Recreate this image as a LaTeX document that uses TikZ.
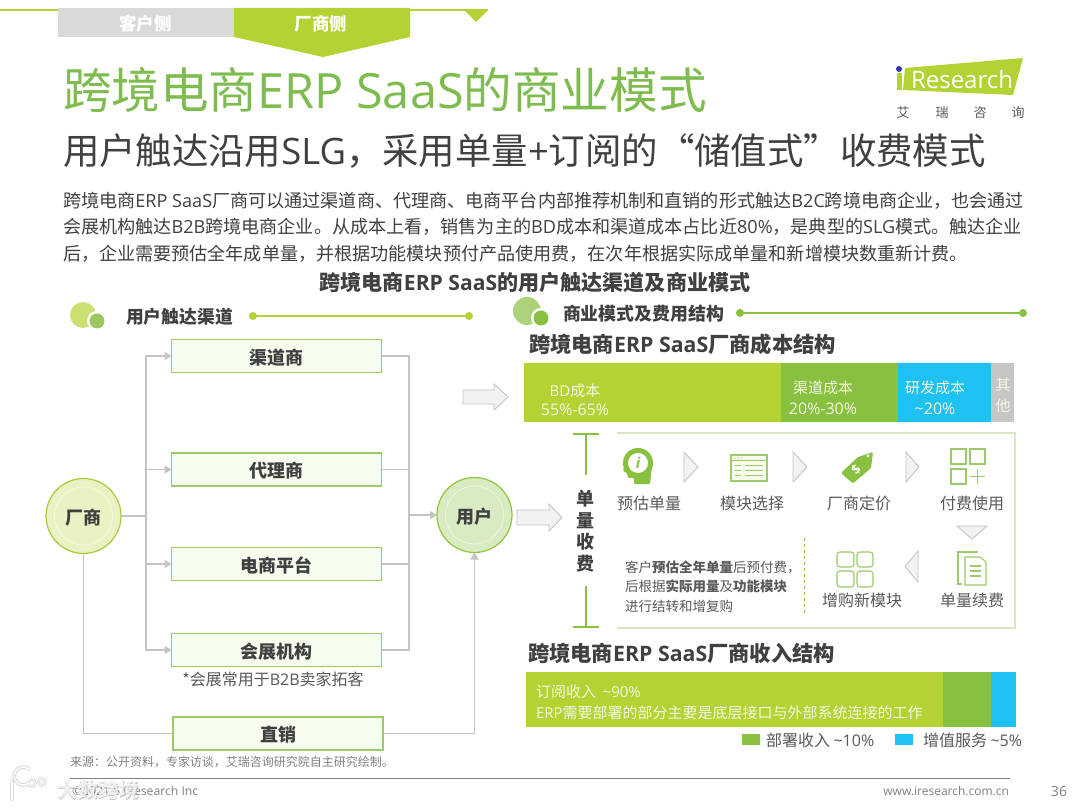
\documentclass[tikz,border=0pt]{standalone}
\usepackage{fontspec}
\usetikzlibrary{arrows.meta,calc}
\setmainfont{Noto Sans CJK SC}
\newfontfamily\latfont{Open Sans}
\newcommand\lat[1]{{\latfont #1}}
\newcommand\fs[1]{\fontsize{#1}{#1}\selectfont}
\newcommand\lo[1]{\raisebox{-1.5pt}[\height][\depth]{#1}}
\definecolor{lime}{HTML}{B3D334}
\definecolor{midg}{HTML}{88C040}
\definecolor{titleg}{HTML}{7FBC50}
\definecolor{skyb}{HTML}{1EC1F2}
\definecolor{dk}{HTML}{404040}
\definecolor{tx}{HTML}{595959}
\definecolor{conn}{HTML}{C4C4C4}
\definecolor{pale}{HTML}{D5E8C0}
\definecolor{iconline}{HTML}{9CC96B}
\tikzset{
  every node/.style={inner sep=0pt,outer sep=0pt},
  t/.style={text=tx,font=\fs{16}},
  barl/.style={text=white!85!lime,font=\fs{15}},
  barp/.style={text=white!85!lime,font=\fs{16}},
  chanbox/.style={draw=iconline,line width=1.2pt,fill=green!20!lime!8!white,minimum width=210pt,minimum height=33pt,text=dk,font=\fs{18}\bfseries},
  round1/.style={circle,draw=lime!70!midg,line width=1.2pt,fill=lime!30!white,minimum size=75pt,text=dk,font=\fs{18}\bfseries},
  round2/.style={circle,draw=midg!80!lime,line width=1.2pt,fill=midg!32!white,minimum size=75pt,text=dk,font=\fs{18}\bfseries},
  flow/.style={draw=conn,line width=1.1pt},
  flowa/.style={flow,-{Triangle[length=7pt,width=8pt,fill=conn]}},
  block/.style={draw=conn,line width=0.9pt,fill=gray!10,line join=miter},
  chev/.style={draw=conn,line width=0.9pt,fill=gray!10},
  ico/.style={draw=iconline,line width=1.1pt},
  icof/.style={fill=midg,draw=none}
}
\begin{document}
\begin{tikzpicture}[x=1pt,y=-1pt]
\useasboundingbox (0,0) rectangle (1080,810);
\fill[white] (0,0) rectangle (1080,810);
% top tabs
\draw[lime,line width=1.6pt] (0,10) -- (58,10);
\draw[lime,line width=1.6pt] (410,10) -- (488,10);
\fill[lime] (464,10) -- (488,10) -- (476,22) -- cycle;
\fill[gray!30] (58,8) rectangle (234,37);
\fill[lime] (234,8) -- (410,8) -- (410,37) -- (323,57) -- (234,37) -- cycle;
\node[text=white,font=\fs{17.5}\bfseries] (tabc) at (145.5,24) {客户侧};
\node[text=white,font=\fs{17.5}\bfseries] (tabv) at (321,24) {厂商侧};
% titles
\node[anchor=west,text=titleg,font=\fs{48.6}] (title) at (63,90) {跨境电商\lat{ERP SaaS}的商业模式};
\node[anchor=west,text=dk,font=\fs{36.4}] (sub) at (63,151) {用户触达沿用\lat{SLG}，采用单量\lat{+}订阅的“储值式”收费模式};
\node[anchor=west,text=dk,font=\fs{18.1}] (b1) at (63,201) {跨境电商\lat{ERP SaaS}厂商可以通过渠道商、代理商、电商平台内部推荐机制和直销的形式触达\lat{B2C}跨境电商企业，也会通过};
\node[anchor=west,text=dk,font=\fs{18.1}] (b2) at (63,227) {会展机构触达\lat{B2B}跨境电商企业。从成本上看，销售为主的\lat{BD}成本和渠道成本占比近\lat{80\%}，是典型的\lat{SLG}模式。触达企业};
\node[anchor=west,text=dk,font=\fs{18.1}] (b3) at (63,254) {后，企业需要预估全年成单量，并根据功能模块预付产品使用费，在次年根据实际成单量和新增模块数重新计费。};
\node[text=dk,font=\fs{21.1}\bfseries] (mid) at (535,283) {跨境电商\lat{ERP SaaS}的用户触达渠道及商业模式};
% logo
\fill[lime] (905,68) -- (1023,58) -- (1013,95) -- (903,90) -- cycle;
\fill[lime] (897,73) rectangle (902,90);
\fill[blue!60!black!80!white] (899,69) circle (3);
\node[anchor=west,text=white,font=\fs{24}] (logo) at (911,80) {\lat{Research}};
\foreach \x/\c in {903/艾,942/瑞,980/咨,1018/询}{\node[text=tx,font=\fs{13}] at (\x,113) {\c};}
% section headers
\fill[lime!70!white] (83,315) circle (13);
\fill[white] (97,321) circle (10);
\fill[midg!85!white] (97,321) circle (7.5);
\node[anchor=west,text=dk,font=\fs{17.8}\bfseries] (h1) at (126,317) {用户触达渠道};
\fill[lime] (253,316) circle (4);\fill[lime] (469,316) circle (4);
\draw[lime,line width=1.6pt] (253,316) -- (469,316);
\fill[midg!70!white] (527,311) circle (14);
\fill[white] (541,318) circle (10);
\fill[midg] (541,318) circle (7.5);
\node[anchor=west,text=dk,font=\fs{17.9}\bfseries] (h2) at (563,314) {商业模式及费用结构};
\fill[midg] (740,313) circle (4);\fill[midg] (1023,313) circle (4);
\draw[midg,line width=1.6pt] (740,313) -- (1023,313);
% channel nodes
\node[chanbox] (q) at (276.5,356) {\lo{渠道商}};
\node[chanbox] (d) at (276.5,469.5) {\lo{代理商}};
\node[chanbox] (e) at (276.5,564) {\lo{电商平台}};
\node[chanbox] (h) at (276.5,650) {\lo{会展机构}};
\node[chanbox] (z) at (278,733.5) {\lo{直销}};
\node[t] (hn) at (273,679) {*会展常用于\lat{B2B}卖家拓客};
\node[round1] (v) at (83.5,516) {\lo{厂商}};
\node[round2] (u) at (474.5,515) {\lo{用户}};
\draw[white!85!lime,line width=.8pt] (v) circle (29);
\draw[white!85!midg,line width=.8pt] (u) circle (29);
\coordinate (lb) at (146,516);
\coordinate (rb) at (409,515);
% connectors
\draw[flow] (v.east) -- (lb);
\draw[flowa] (lb) |- (q.west);
\draw[flowa] (lb) |- (d.west);
\draw[flowa] (lb) |- (e.west);
\draw[flowa] (lb) |- (h.west);
\draw[flow] (q.east) -| (rb);
\draw[flow] (d.east) -| (rb);
\draw[flow] (e.east) -| (rb);
\draw[flow] (h.east) -| (rb);
\draw[flowa] (rb) -- (u.west);
\draw[flow] (v.south) |- (z.west);
\draw[flowa] (z.east) -| (u.south);
% block arrows
\draw[block] (463,390) -- (494,390) -- (494,384) -- (508,397) -- (494,410) -- (494,404) -- (463,404) -- cycle;
\draw[block] (517,510) -- (549,510) -- (549,504) -- (562,517.5) -- (549,531) -- (549,525) -- (517,525) -- cycle;
% cost
\node[anchor=west,text=dk,font=\fs{21.3}\bfseries] (ct) at (529,344) {跨境电商\lat{ERP SaaS}厂商成本结构};
\fill[lime] (524,363) rectangle (781,422);
\fill[midg] (781,363) rectangle (898,422);
\fill[skyb] (898,363) rectangle (991,422);
\fill[gray!45] (991,363) rectangle (1014,422);
\node[barl] (c1) at (575,391) {\lat{BD}成本};
\node[barp] (c1b) at (575,410) {\lat{55\%-65\%}};
\node[barl] (c2) at (823,388) {渠道成本};
\node[barp] (c2b) at (823,409) {\lat{20\%-30\%}};
\node[barl] (c3) at (935,388) {研发成本};
\node[barp] (c3b) at (935,409) {\lat{\textasciitilde 20\%}};
\node[barl] (c4) at (1003,385) {其};
\node[barl] (c4b) at (1003,406) {他};
% frame
\draw[pale,line width=2pt] (617,433) -- (1015,433) -- (1015,628) -- (617,628);
\draw[midg,line width=1.6pt] (573,434) -- (599,434) (586,434) -- (586,475);
\draw[midg,line width=1.6pt] (573,627) -- (599,627) (586,627) -- (586,586);
\foreach \y/\c in {499/单,521/量,542/收,564/费}{\node[text=dk,font=\fs{18}\bfseries] at (585,\y) {\c};}
% chevrons
\draw[chev] (684,452) -- (698,467) -- (684,482) -- cycle;
\draw[chev] (793,452) -- (807,467) -- (793,482) -- cycle;
\draw[chev] (906,452) -- (919,467) -- (906,482) -- cycle;
\draw[chev] (957,526) -- (987,526) -- (972,539) -- cycle;
\draw[chev] (918,551) -- (905,566.5) -- (918,582) -- cycle;
% head icon
\fill[midg] (638,463) circle (15);
\fill[midg,rounded corners=1pt] (625,464) -- (623,471) -- (627,473) -- (628,478) -- (634,478) -- (634,484) -- (650,484) -- (652,466) -- cycle;
\fill[white] (638,463) circle (10);
\node[text=midg,font=\fs{15}\bfseries\itshape] (i1) at (638,463) {\lat{i}};
% module icon
\draw[ico,fill=lime!10] (731,455) rectangle (767,481);
\draw[ico] (731,460.5) -- (767,460.5);
\fill[iconline] (735,458) circle (.6) (738,458) circle (.6) (741,458) circle (.6);
\foreach \y in {465,470,475}{\draw[iconline,line width=.8pt] (735,\y) -- (741,\y) (745,\y) -- (763,\y);}
% tag icon
\fill[midg,rounded corners=1.5pt] (841,473) -- (858,457) -- (873,452) -- (871,468) -- (853,483.5) -- cycle;
\fill[white] (868,456) circle (1.6);
\node[text=white,rotate=45,font=\fs{13}\bfseries] (i3) at (856,470) {\lat{\$}};
% squares plus
\draw[ico] (951,449) rectangle (966,464);
\draw[ico] (970,449) rectangle (985,464);
\draw[ico] (951,469) rectangle (966,484);
\draw[ico] (970,476.5) -- (985,476.5) (977.5,469) -- (977.5,484);
% doc icon
\draw[ico,line width=1.6pt] (962,584) -- (958,584) -- (958,552) -- (978,552);
\draw[ico] (965,557) -- (980,557) -- (986,562) -- (986,585) -- (965,585) -- cycle;
\foreach \y in {566,571,576}{\draw[iconline,line width=1.1pt] (970,\y) -- (981,\y);}
% four rounded squares
\draw[ico,rounded corners=3pt] (837,552) rectangle (854,567);
\draw[ico,rounded corners=3pt] (857,552) rectangle (873,567);
\draw[ico,rounded corners=3pt] (837,571) rectangle (854,587);
\draw[ico,rounded corners=3pt] (857,571) rectangle (873,587);
% flow labels
\node[t] (p1) at (649,503) {预估单量};
\node[t] (p2) at (752,503) {模块选择};
\node[t] (p3) at (859,503) {厂商定价};
\node[t] (p4) at (972,503) {付费使用};
\node[t] (p5) at (972,600) {单量续费};
\node[t] (p6) at (862,600) {增购新模块};
\draw[midg,dashed,line width=1pt] (804,538) -- (804,613);
\node[anchor=west,text=tx,font=\fs{13.5}] (n1) at (625,567) {客户{\bfseries 预估全年单量}后预付费，};
\node[anchor=west,text=tx,font=\fs{13.5}] (n2) at (625,586) {后根据{\bfseries 实际用量}及{\bfseries 功能模块}};
\node[anchor=west,text=tx,font=\fs{13.5}] (n3) at (625,606) {进行结转和增复购};
% revenue
\node[anchor=west,text=dk,font=\fs{21.3}\bfseries] (rt) at (528,653) {跨境电商\lat{ERP SaaS}厂商收入结构};
\fill[lime] (526,672) rectangle (943,727);
\fill[midg] (943,672) rectangle (991,727);
\fill[skyb] (991,672) rectangle (1016,727);
\node[anchor=west,barl,font=\fs{15}] (r1) at (536,692) {订阅收入\ \ \lat{\textasciitilde 90\%}};
\node[anchor=west,barl,font=\fs{15}] (r2) at (536,713) {\lat{ERP}需要部署的部分主要是底层接口与外部系统连接的工作};
\fill[midg] (742,734) rectangle (760,745);
\node[anchor=west,t] (l1) at (766,740) {部署收入 \lat{\textasciitilde 10\%}};
\fill[skyb] (895,734) rectangle (913,745);
\node[anchor=west,t] (l2) at (923,740) {增值服务 \lat{\textasciitilde 5\%}};
% footer
\node[anchor=west,text=gray,font=\fs{12}] (src) at (70,762) {来源：公开资料，专家访谈，艾瑞咨询研究院自主研究绘制。};
\draw[gray,line width=.8pt] (70,778) -- (1010,778);
\node[anchor=west,text=gray,font=\fs{12.2}] (copy) at (72,791) {\lat{©2021.5 iResearch Inc}};
\node[anchor=east,text=gray,font=\fs{12}] (web) at (1009,791) {\lat{www.iresearch.com.cn}};
\node[anchor=east,text=gray,font=\fs{14}] (pg) at (1067,791) {\lat{36}};
% watermark
\draw[gray!40,line width=3.4pt,line cap=round] (12,781) -- (12,800) (29,783) arc (50:310:9);
\draw[gray!40,line width=2.4pt] (32,783) circle (3.5) (42,782) circle (3.5);
\draw[white,line width=1.8pt,line cap=round] (12,781) -- (12,800) (29,783) arc (50:310:9);
\draw[white,line width=1pt] (32,783) circle (3.5) (42,782) circle (3.5);
\node[anchor=west,text=gray,text opacity=.45,font=\fs{20.5}\bfseries] (wms) at (57.8,790.8) {大数跨境};
\node[anchor=west,text=white,text opacity=.75,font=\fs{20.5}\bfseries] (wm) at (57,790) {大数跨境};
\end{tikzpicture}
\end{document}
